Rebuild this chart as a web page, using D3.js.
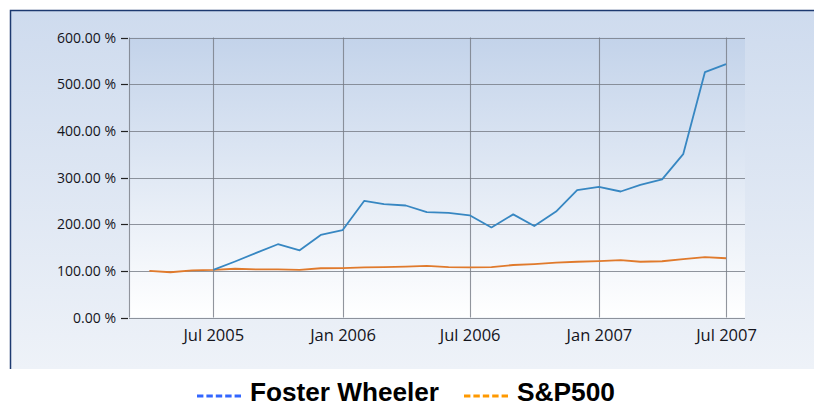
<!DOCTYPE html>
<html>
<head>
<meta charset="utf-8">
<script src="https://cdn.jsdelivr.net/npm/d3@7"></script>
<style>
  html, body { margin:0; padding:0; background:#fff; }
  svg { display:block; }
</style>
</head>
<body>
<div id="chart"></div>
<script>
// data (monthly, % of start value)
const fwDates = ["2005-07","2005-08","2005-09","2005-10","2005-11","2005-12",
  "2006-01","2006-02","2006-03","2006-04","2006-05","2006-06","2006-07","2006-08","2006-09","2006-10","2006-11","2006-12",
  "2007-01","2007-02","2007-03","2007-04","2007-05","2007-06","2007-07"];
const fwValues = [102,120,139,157,144,177,187,250,243,240,226,224,219,193,221,196,227,273,280,270,284,296,350,526,543];

const spDates = ["2005-04","2005-05","2005-06","2005-07","2005-08","2005-09","2005-10","2005-11","2005-12",
  "2006-01","2006-02","2006-03","2006-04","2006-05","2006-06","2006-07","2006-08","2006-09","2006-10","2006-11","2006-12",
  "2007-01","2007-02","2007-03","2007-04","2007-05","2007-06","2007-07"];
const spValues = [100,97,101,102,104.5,103,103,102,105.5,106,107.5,108,109,110.5,108,107.5,108,112.5,114.5,117.5,119.5,121,123,119.5,120.5,125,129.5,127];

const yTicks = [0,100,200,300,400,500,600];
const xTicks = ["2005-07","2006-01","2006-07","2007-01","2007-07"];
const seriesNames = ["Foster Wheeler","S&P500"];

const parse = d3.timeParse("%Y-%m");
const W = 814, H = 406;

const svg = d3.select("#chart").append("svg").attr("width", W).attr("height", H);
const defs = svg.append("defs");

const panelGrad = defs.append("linearGradient").attr("id","panelGrad").attr("x1",0).attr("y1",0).attr("x2",0).attr("y2",1);
panelGrad.append("stop").attr("offset","0%").attr("stop-color","#cedbee");
panelGrad.append("stop").attr("offset","100%").attr("stop-color","#eef2f8");

const plotGrad = defs.append("linearGradient").attr("id","plotGrad").attr("x1",0).attr("y1",0).attr("x2",0).attr("y2",1);
plotGrad.append("stop").attr("offset","0%").attr("stop-color","#c3d3ea");
plotGrad.append("stop").attr("offset","100%").attr("stop-color","#ffffff");

// outer panel
svg.append("rect").attr("x",10).attr("y",10).attr("width",W-10).attr("height",359).attr("fill","url(#panelGrad)");
svg.append("path").attr("d","M10.5,369V10.5H814").attr("fill","none").attr("stroke","#1d3a70").attr("stroke-width",1.5);

const margin = {left:129, right:745, top:37.5, bottom:317.5};
const x = d3.scaleTime().domain([new Date(2005,2,3), new Date(2007,6,28)]).range([margin.left, margin.right]);
const y = d3.scaleLinear().domain([0,600]).range([margin.bottom, margin.top]);

svg.append("rect").attr("x",margin.left).attr("y",margin.top)
  .attr("width",margin.right-margin.left).attr("height",margin.bottom-margin.top).attr("fill","url(#plotGrad)");

// grid
const grid = svg.append("g").attr("stroke","#767b85").attr("stroke-opacity",0.8).attr("stroke-width",1.1);
grid.selectAll(".hg").data(yTicks).join("line")
  .attr("x1",margin.left).attr("x2",margin.right)
  .attr("y1",d=>Math.round(y(d))+0.5).attr("y2",d=>Math.round(y(d))+0.5);
grid.selectAll(".vg").data(xTicks).join("line")
  .attr("x1",d=>Math.round(x(parse(d)))+0.5).attr("x2",d=>Math.round(x(parse(d)))+0.5)
  .attr("y1",margin.top).attr("y2",margin.bottom);
grid.append("line").attr("x1",margin.left+0.5).attr("x2",margin.left+0.5).attr("y1",margin.top).attr("y2",margin.bottom);

// y axis
const yAxis = svg.append("g").attr("transform",`translate(${margin.left},0)`)
  .call(d3.axisLeft(y).tickValues(yTicks).tickSize(8).tickPadding(4).tickFormat(d => d3.format(".2f")(d) + " %"));
yAxis.select(".domain").remove();
yAxis.selectAll(".tick line").attr("stroke","#222").attr("stroke-width",1.2).attr("x1",-1);
yAxis.selectAll(".tick").attr("transform", d => `translate(0,${Math.round(y(d))+0.5})`);
yAxis.selectAll("text").attr("font-family","'Open Sans', sans-serif").attr("font-size","14px")
  .attr("fill","#14141c").attr("dx","-1");

// x axis
const xAxis = svg.append("g").attr("transform",`translate(0,${margin.bottom})`)
  .call(d3.axisBottom(x).tickValues(xTicks.map(parse)).tickSize(0).tickPadding(8).tickFormat(d3.timeFormat("%b %Y")));
xAxis.select(".domain").remove();
xAxis.selectAll("text").attr("font-family","'Open Sans', sans-serif").attr("font-size","16.5px")
  .attr("fill","#14141c").attr("dy","0.95em");

// lines
const line = d3.line().x(d => x(d[0])).y(d => y(d[1]));
const fwData = fwDates.map((d,i) => [parse(d), fwValues[i]]);
const spData = spDates.map((d,i) => [parse(d), spValues[i]]);

svg.append("path").datum(spData).attr("fill","none").attr("stroke","#e07a2c").attr("stroke-width",1.8)
  .attr("stroke-linejoin","round").attr("d",line);
svg.append("path").datum(fwData).attr("fill","none").attr("stroke","#3787c2").attr("stroke-width",1.8)
  .attr("stroke-linejoin","round").attr("d",line);

// legend
const legend = svg.append("g");
const legItems = [
  {name:seriesNames[0], color:"#3366ff", x:197, w:189},
  {name:seriesNames[1], color:"#ff9900", x:464, w:98}
];
legItems.forEach(it => {
  legend.append("line").attr("x1",it.x).attr("x2",it.x+44).attr("y1",396).attr("y2",396)
    .attr("stroke",it.color).attr("stroke-width",3).attr("stroke-dasharray","6.4,3");
  legend.append("text").attr("x",it.x+53).attr("y",400.5).text(it.name)
    .attr("font-family","'Liberation Sans', Arial, sans-serif").attr("font-weight","bold")
    .attr("font-size","25px").attr("fill","#000")
    .attr("textLength",it.w).attr("lengthAdjust","spacingAndGlyphs");
});
</script>
</body>
</html>
